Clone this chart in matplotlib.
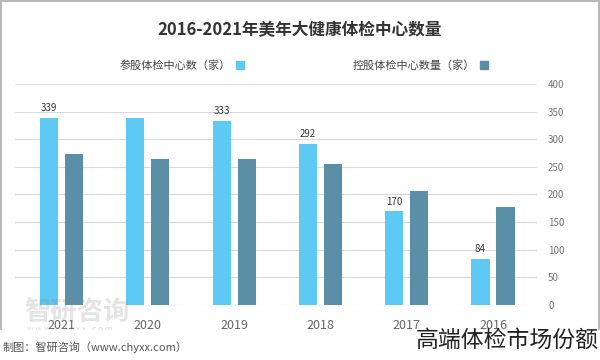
import matplotlib.pyplot as plt
import numpy as np
from matplotlib.patches import Rectangle

plt.rcParams['font.family'] = ['Noto Sans CJK SC', 'DejaVu Sans']

# data (layout is mirrored like the reference: 2021 on the left)
years = ['2021', '2020', '2019', '2018', '2017', '2016']
share_centers = [339, 338, 333, 292, 170, 84]      # 参股体检中心数（家）
hold_centers = [273, 264, 264, 255, 207, 178]      # 控股体检中心数量（家）
share_labels = ['339', '', '333', '292', '170', '84']
y_ticks = [0, 50, 100, 150, 200, 250, 300, 350, 400]

light = '#5ec9f2'
dark = '#5b8fa7'

fig = plt.figure(figsize=(6, 3.6), dpi=100)
ax = fig.add_axes([0.025, 0.153, 0.87, 0.614])

x = np.arange(len(years))
w = 0.21
ax.bar(x - 0.145, share_centers, w, color=light, zorder=3)
ax.bar(x + 0.145, hold_centers, w, color=dark, zorder=3)

for xi, v, lab in zip(x, share_centers, share_labels):
    if lab:
        ax.text(xi - 0.145, v + 8, lab, ha='center', va='bottom',
                fontsize=7, color='#333333')

ax.set_xlim(-0.54, 5.51)
ax.set_ylim(0, 400)
ax.set_yticks(y_ticks)
ax.yaxis.tick_right()
ax.tick_params(axis='y', length=0, labelsize=7, labelcolor='#777777', pad=8)
ax.set_xticks(x)
ax.set_xticklabels(years)
ax.tick_params(axis='x', length=0, labelsize=9, labelcolor='#666666', pad=10)
ax.grid(axis='y', color='#d9d9d9', linewidth=0.8, zorder=0)
for s in ax.spines.values():
    s.set_visible(False)

# title
fig.text(0.5, 0.915, '2016-2021年美年大健康体检中心数量', ha='center', va='center',
         fontsize=12, fontweight='bold', color='#333333')

# legend (mirrored: marker to the right of the text)
fig.patches.append(Rectangle((0.393, 0.808), 0.013, 0.022, color=light,
                             transform=fig.transFigure, figure=fig))
fig.text(0.385, 0.819, '参股体检中心数（家）', ha='right', va='center',
         fontsize=8, color='#444444')
fig.patches.append(Rectangle((0.800, 0.808), 0.013, 0.022, color=dark,
                             transform=fig.transFigure, figure=fig))
fig.text(0.792, 0.819, '控股体检中心数量（家）', ha='right', va='center',
         fontsize=8, color='#444444')

# watermark
fig.text(0.04, 0.13, '智研咨询', fontsize=19, color='#888888', alpha=0.22,
         ha='left', va='center', fontweight='bold')
fig.text(0.045, 0.085, 'w w w . c h y x x . c o m', fontsize=6, color='#888888',
         alpha=0.3, ha='left', va='center')

# bottom strip overlay
fig.patches.append(Rectangle((0, 0), 1, 0.082, color='white',
                             transform=fig.transFigure, figure=fig, zorder=5))
fig.text(0.005, 0.035, '制图：智研咨询（www.chyxx.com）', fontsize=8,
         color='#555555', ha='left', va='center', zorder=6)
fig.text(0.997, 0.055, '高端体检市场份额', fontsize=16.5, color='#222222',
         ha='right', va='center', zorder=6)

# outer frame
fig.patches.append(Rectangle((0.002, 0.003), 0.996, 0.994, fill=False,
                             edgecolor='#aaaaaa', linewidth=1.2,
                             transform=fig.transFigure, figure=fig))

fig.savefig('out.png', dpi=100)
